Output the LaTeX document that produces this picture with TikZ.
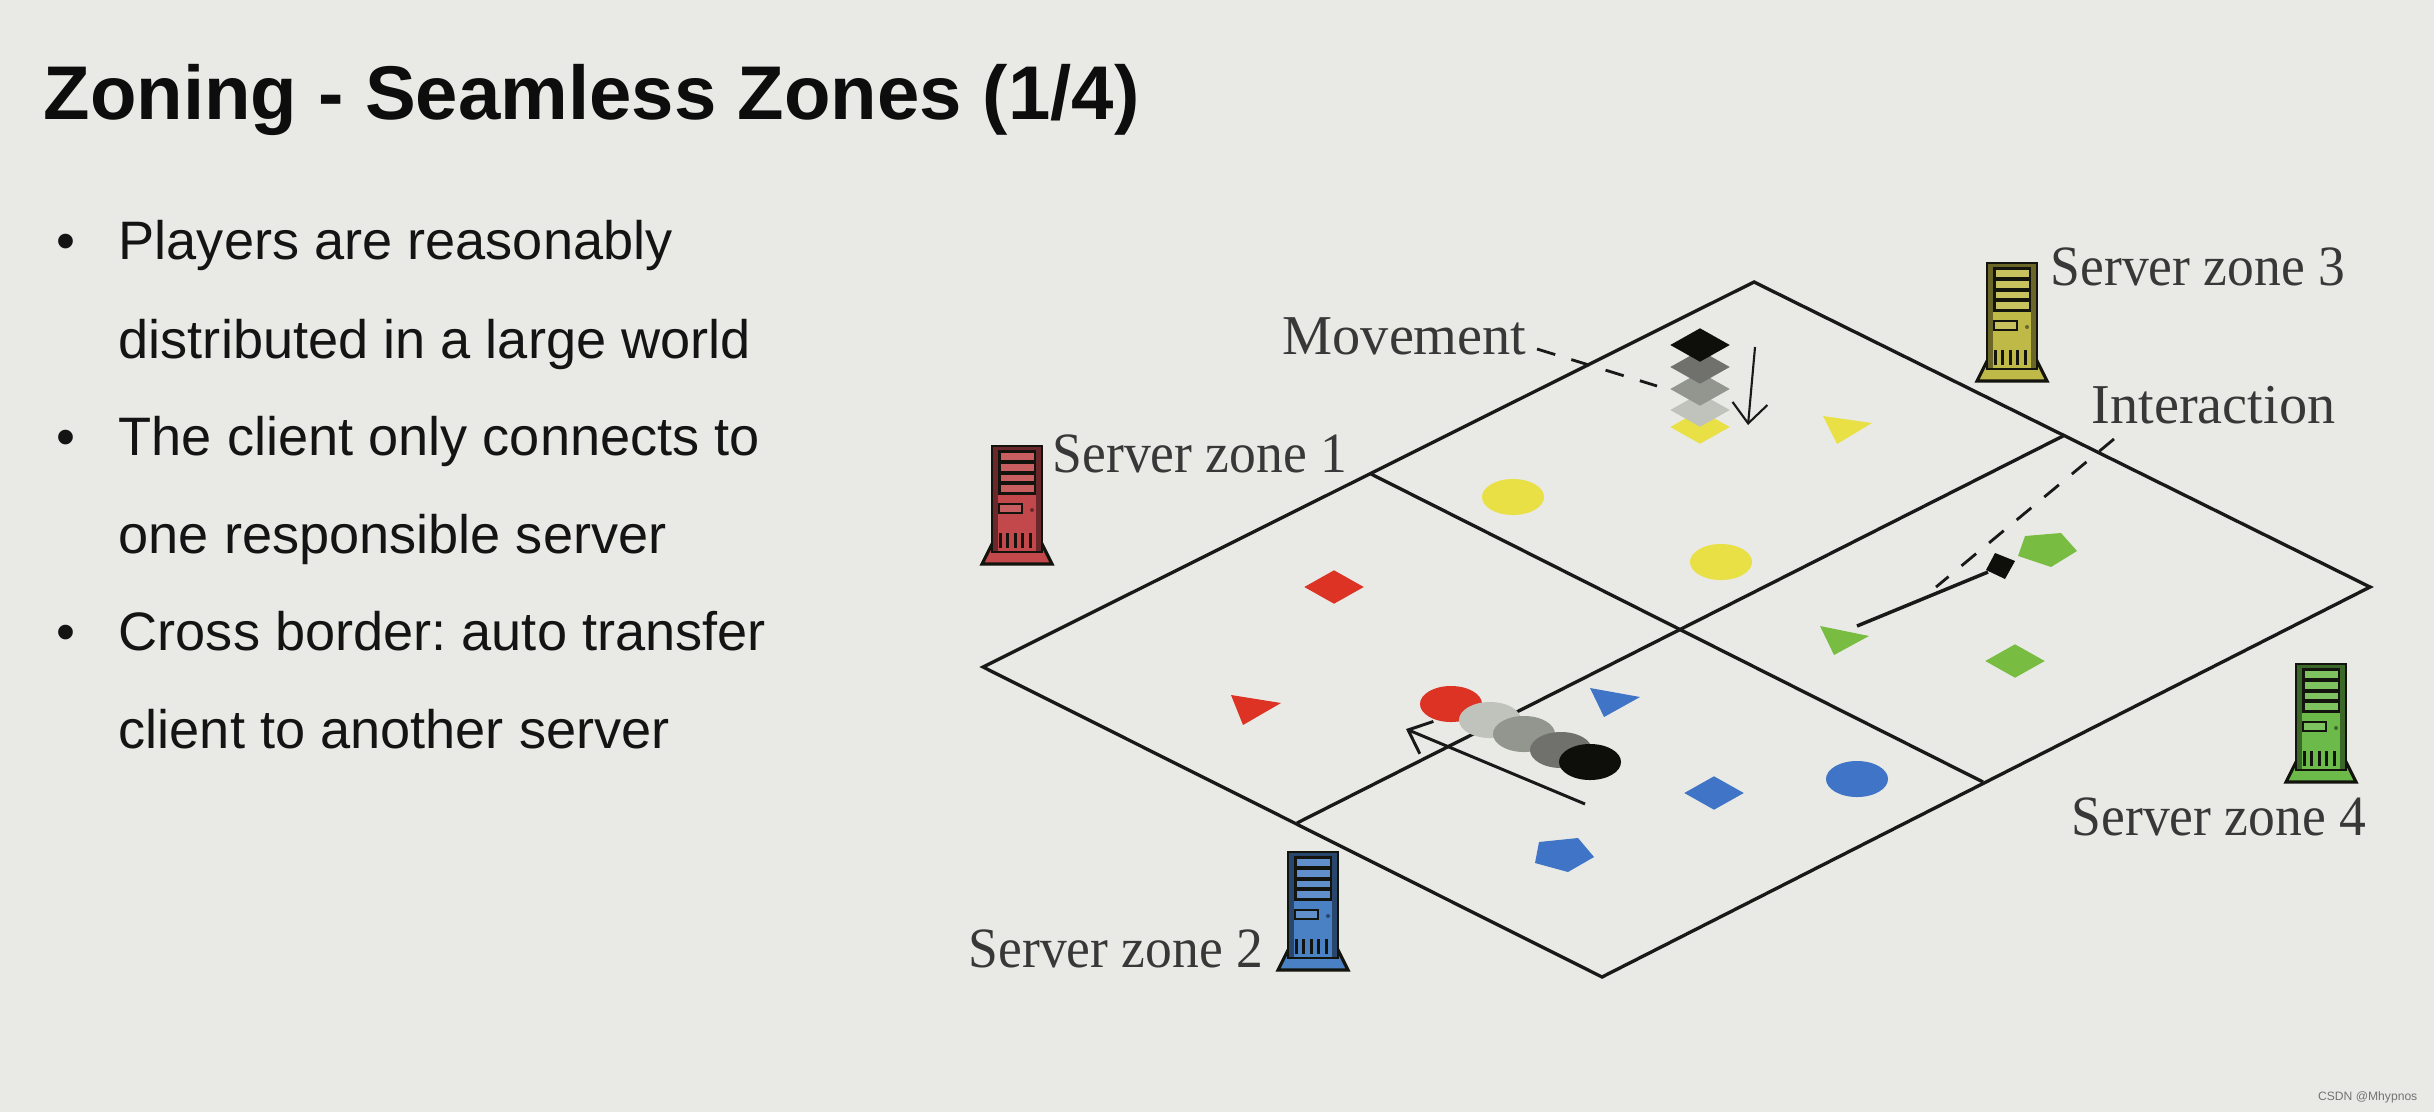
\documentclass[tikz,border=0pt]{standalone}
\usepackage{fontspec}
\setmainfont{Liberation Serif}
\setsansfont{Liberation Sans}
\newfontfamily\zonefont[FakeStretch=0.94]{Liberation Serif}
\usepackage{xcolor}
\usetikzlibrary{arrows.meta,positioning,calc,shapes.geometric}

\definecolor{slidebg}{HTML}{E9EAE5}
\definecolor{zonered}{HTML}{DC3324}
\definecolor{zoneblue}{HTML}{3F74C6}
\definecolor{zoneyellow}{HTML}{E8E045}
\definecolor{zonegreen}{HTML}{78BD42}
\definecolor{srvred}{HTML}{C2484C}
\definecolor{srvblue}{HTML}{4A80C4}
\definecolor{srvyellow}{HTML}{BFBA48}
\definecolor{srvgreen}{HTML}{6CBB4A}
\definecolor{srvline}{HTML}{14140F}
\definecolor{ghostlight}{HTML}{C0C2BC}
\definecolor{ghostmid}{HTML}{93958F}
\definecolor{ghostdark}{HTML}{70716D}
\definecolor{ghostblack}{HTML}{0E0E0A}

\tikzset{
  pics/tower/.style={code={
    \fill[#1, draw=srvline, line width=0.9pt] (-25,98) -- (25,98) -- (35,118) -- (-35,118) -- cycle;
    \fill[#1!55!black, draw=srvline, line width=0.8pt] (-25,0) rectangle (25,106);
    \fill[#1] (-19,4) rectangle (19,105);
    \fill[srvline] (-19,4) rectangle (19,49);
    \foreach \top/\bot in {7/14,18/25,29/35,39/46}
      \fill[#1!88!white] (-16.5,\top) rectangle (16.5,\bot);
    \draw[srvline, fill=#1!88!white, line width=0.8pt] (-18,58) rectangle (5,67);
    \fill[#1!55!black] (15,64) circle (2);
    \foreach \vx in {-17,-9.5,-2,5,13}
      \draw[srvline, line width=0.85pt] (\vx,87) -- (\vx,102);
  }},
}

\begin{document}
\begin{tikzpicture}[
  x=0.01cm, y=-0.01cm,
  grid/.style={line width=0.95pt, black!90},
  lbl/.style={font=\zonefont\fontsize{16.2}{18}\selectfont, text=black!78, inner sep=0pt, anchor=base west},
  callout/.style={font=\fontsize{16}{18}\selectfont, text=black!78, inner sep=0pt, anchor=base west},
  bodytxt/.style={font=\sffamily\fontsize{15.4}{17}\selectfont\frenchspacing, text=black!92, inner sep=0pt, anchor=base west},
  dia/.style={diamond, aspect=1.76, inner sep=0pt, minimum width=0.6cm, minimum height=0.34cm},
  disc/.style={ellipse, inner sep=0pt, minimum width=0.62cm, minimum height=0.36cm},
  thinarr/.style={-{Straight Barb[length=2mm,width=3.5mm]}, line width=0.6pt, black!90},
  dashy/.style={line width=0.8pt, dash pattern=on 5.4pt off 4.8pt, black!90},
]
\fill[slidebg] (0,0) rectangle (2434,1112);
\useasboundingbox (0,0) rectangle (2434,1112);

% title and bullet list
\node[inner sep=0pt, anchor=base west, font=\sffamily\bfseries\fontsize{21.65}{26}\selectfont, text=black!95] (title) at (43,119) {Zoning - Seamless Zones (1/4)};
\foreach \ypos/\tline in {259/Players are reasonably,358/distributed in a large world,455/The client only connects to,553/one responsible server,650/Cross border: auto transfer,748/client to another server}
  \node[bodytxt] (line\ypos) at (118,\ypos) {\tline};
\foreach \ypos in {259,455,650}
  \node[bodytxt] (dot\ypos) at (56,\ypos) {•};

% the world and its zone borders
\coordinate (wl) at (983,667);
\coordinate (wt) at (1754,282);
\coordinate (wr) at (2370,587);
\coordinate (wb) at (1602,977);
\coordinate (ml) at (1371,474);
\coordinate (mt) at (2063,436);
\coordinate (mr) at (1983,782);
\coordinate (mb) at (1297,823);
\draw[grid] (wl) -- (wt) -- (wr) -- (wb) -- cycle;
\draw[grid] (ml) -- (mr);
\draw[grid] (mb) -- (mt);

% servers
\pic at (1017,446) {tower=srvred};
\pic at (1313,852) {tower=srvblue};
\pic at (2012,263) {tower=srvyellow};
\pic at (2321,664) {tower=srvgreen};
\node[lbl] (zone1) at (1052,472) {Server zone 1};
\node[lbl] (zone2) at (968,967) {Server zone 2};
\node[lbl] (zone3) at (2050,285) {Server zone 3};
\node[lbl] (zone4) at (2071,835) {Server zone 4};
\node[callout] (move) at (1282,354) {Movement};
\node[callout] (inter) at (2091,423) {Interaction};

% yellow zone, with the moving diamond
\node[dia, fill=zoneyellow] (ydia) at (1700,427) {};
\node[dia, fill=ghostlight] (ghosta) at (1700,410) {};
\node[dia, fill=ghostmid] (ghostb) at (1700,389) {};
\node[dia, fill=ghostdark] (ghostc) at (1700,367) {};
\node[dia, fill=ghostblack] (ghostd) at (1700,345) {};
\node[disc, fill=zoneyellow] (ydisca) at (1513,497) {};
\node[disc, fill=zoneyellow] (ydiscb) at (1721,562) {};
\fill[zoneyellow] (1823,416) -- (1872,423) -- (1837,444) -- cycle;

% red zone, with the moving disc
\node[dia, fill=zonered] (rdia) at (1334,587) {};
\fill[zonered] (1231,695) -- (1281,703) -- (1243,725) -- cycle;
\node[disc, fill=zonered] (rdisc) at (1451,704) {};
\node[disc, fill=ghostlight] (trailb) at (1490,720) {};
\node[disc, fill=ghostmid] (trailc) at (1524,734) {};
\node[disc, fill=ghostdark] (traild) at (1561,750) {};
\node[disc, fill=ghostblack] (traile) at (1590,762) {};

% blue zone
\fill[zoneblue] (1590,688) -- (1640,697) -- (1604,717) -- cycle;
\node[dia, fill=zoneblue] (bdia) at (1714,793) {};
\node[disc, fill=zoneblue] (bdisc) at (1857,779) {};
\fill[zoneblue] (1539,842) -- (1578,838) -- (1594,857) -- (1568,872) -- (1535,863) -- cycle;

% green zone
\fill[zonegreen] (2025,536) -- (2061,533) -- (2077,551) -- (2051,567) -- (2018,556) -- cycle;
\fill[zonegreen] (1820,626) -- (1869,636) -- (1834,655) -- cycle;
\node[dia, fill=zonegreen] (gdia) at (2015,661) {};
\fill[ghostblack] (1995,553) -- (2015,561) -- (2005,579) -- (1986,570) -- cycle;

% connectors
\coordinate (mvfrom) at (1537,349);
\coordinate (mvto) at (1657,386);
\draw[dashy] (mvfrom) -- (mvto);
\coordinate (itfrom) at (2114,439);
\coordinate (itto) at (1936,587);
\draw[dashy] (itfrom) -- (itto);
\coordinate (hita) at (1988,572);
\coordinate (hitb) at (1857,626);
\draw[line width=1pt, black!90] (hita) -- (hitb);
\coordinate (ya) at (1755,347);
\coordinate (yb) at (1748,425);
\draw[thinarr] (ya) -- (yb);
\coordinate (ra) at (1585,804);
\coordinate (rb) at (1406,729);
\draw[thinarr, line width=0.85pt] (ra) -- (rb);

\node[inner sep=0pt, anchor=base east, font=\sffamily\fontsize{3.45}{6}\selectfont, text=black!55] (mark) at (2418,1100) {CSDN @Mhypnos};
\end{tikzpicture}
\end{document}
